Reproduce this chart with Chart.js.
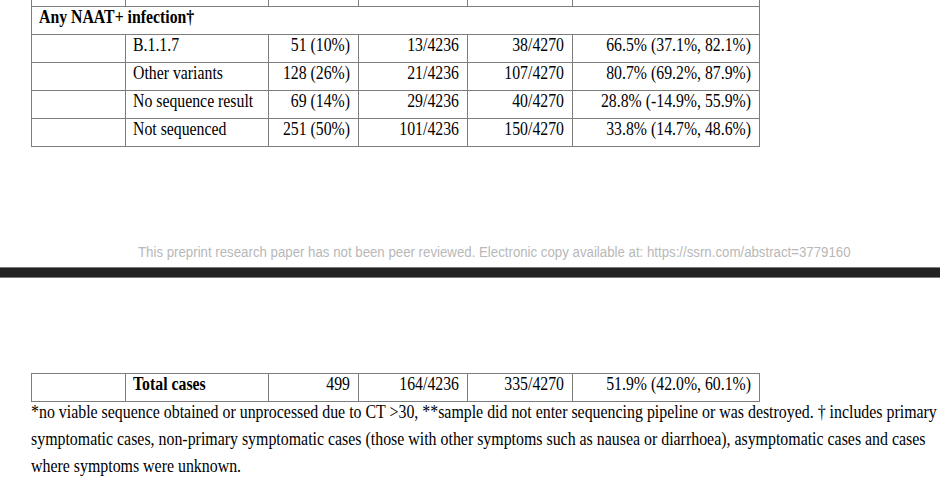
<!DOCTYPE html>
<html>
<head>
<meta charset="utf-8">
<script src="https://cdn.jsdelivr.net/npm/chart.js@4.4.1/dist/chart.umd.min.js"></script>
<style>
html,body{margin:0;padding:0;width:940px;height:485px;overflow:hidden;background:#fff;}
body{position:relative;font-family:"Liberation Serif","Times New Roman",serif;font-size:15.8px;color:#000;}
table.t{position:absolute;left:31px;border-collapse:collapse;table-layout:fixed;}
table.t td{border:1px solid #7d7d7d;padding:1.5px 8px 0 7px;height:25.5px;vertical-align:top;line-height:18px;white-space:nowrap;overflow:visible;}
table.t td.r{text-align:right;}
table.t td.b{font-weight:bold;}
.s{display:inline-block;transform:scaleY(1.18);transform-origin:0 14.3px;}
#wm{position:absolute;left:138px;top:245px;font-family:"Liberation Sans",Arial,sans-serif;font-size:13.26px;color:#b8b8b8;white-space:nowrap;transform:scaleY(1.1);transform-origin:0 12px;}
#sep{position:absolute;left:0;top:267px;width:940px;height:11px;}
#foot{position:absolute;left:31px;top:399px;line-height:27px;white-space:nowrap;font-size:15.9px;}
#foot div{transform:scaleY(1.18);transform-origin:0 18.9px;}
</style>
</head>
<body>
<table class="t" id="topTable" style="top:-22px"></table>
<div id="wm"></div>
<div id="sep"><canvas id="sepc" width="940" height="11"></canvas></div>
<table class="t" id="botTable" style="top:373px"></table>
<div id="foot"></div>
<script>
// ---- data ----
const sectionTitle = "Any NAAT+ infection\u2020";
const categories = ["B.1.1.7", "Other variants", "No sequence result", "Not sequenced"];
const cases = ["51 (10%)", "128 (26%)", "69 (14%)", "251 (50%)"];
const vaccineArm = ["13/4236", "21/4236", "29/4236", "101/4236"];
const controlArm = ["38/4270", "107/4270", "40/4270", "150/4270"];
const efficacy = ["66.5% (37.1%, 82.1%)", "80.7% (69.2%, 87.9%)", "28.8% (-14.9%, 55.9%)", "33.8% (14.7%, 48.6%)"];
const totalRow = ["Total cases", "499", "164/4236", "335/4270", "51.9% (42.0%, 60.1%)"];
const watermark = "This preprint research paper has not been peer reviewed. Electronic copy available at: https://ssrn.com/abstract=3779160";
const footnoteLines = [
  "*no viable sequence obtained or unprocessed due to CT >30, **sample did not enter sequencing pipeline or was destroyed. \u2020 includes primary",
  "symptomatic cases, non-primary symptomatic cases (those with other symptoms such as nausea or diarrhoea), asymptomatic cases and cases",
  "where symptoms were unknown."
];
const colWidths = [94, 143, 90, 109, 105, 187];
const separatorValue = [1];

// ---- build tables ----
function addColgroup(tbl){
  const cg = document.createElement('colgroup');
  colWidths.forEach(w => { const c = document.createElement('col'); c.style.width = w + 'px'; cg.appendChild(c); });
  tbl.appendChild(cg);
}
function addCell(row, text, cls, span){
  const c = document.createElement('td');
  if (cls) c.className = cls;
  if (span) c.colSpan = span;
  if (text) {
    const s = document.createElement('span');
    s.className = 's';
    s.textContent = text;
    c.appendChild(s);
  }
  row.appendChild(c);
  return c;
}
const topTable = document.getElementById('topTable');
addColgroup(topTable);
const row0 = document.createElement('tr');
for (let i = 0; i < 6; i++) addCell(row0, "", i > 1 ? "r" : "");
topTable.appendChild(row0);
const titleRow = document.createElement('tr');
addCell(titleRow, sectionTitle, "b", 6);
topTable.appendChild(titleRow);
categories.forEach((cat, i) => {
  const r = document.createElement('tr');
  addCell(r, "");
  addCell(r, cat);
  addCell(r, cases[i], "r");
  addCell(r, vaccineArm[i], "r");
  addCell(r, controlArm[i], "r");
  addCell(r, efficacy[i], "r");
  topTable.appendChild(r);
});
const botTable = document.getElementById('botTable');
addColgroup(botTable);
const totRow = document.createElement('tr');
addCell(totRow, "");
addCell(totRow, totalRow[0], "b");
for (let i = 1; i < totalRow.length; i++) addCell(totRow, totalRow[i], "r");
botTable.appendChild(totRow);

document.getElementById('wm').textContent = watermark;
const foot = document.getElementById('foot');
footnoteLines.forEach(l => { const d = document.createElement('div'); d.textContent = l; foot.appendChild(d); });

// ---- page separator band drawn with Chart.js ----
new Chart(document.getElementById('sepc'), {
  type: 'bar',
  data: { labels: [""], datasets: [{ data: separatorValue, backgroundColor: '#222222', borderColor: '#9a9a9a', borderWidth: {top:1,bottom:1,left:0,right:0}, borderSkipped: false, barPercentage: 1, categoryPercentage: 1 }] },
  options: {
    indexAxis: 'y', responsive: false, animation: false, maintainAspectRatio: false,
    layout: { padding: 0 },
    plugins: { legend: { display: false }, tooltip: { enabled: false } },
    scales: { x: { display: false, min: 0, max: 1 }, y: { display: false } }
  }
});
</script>
</body>
</html>
